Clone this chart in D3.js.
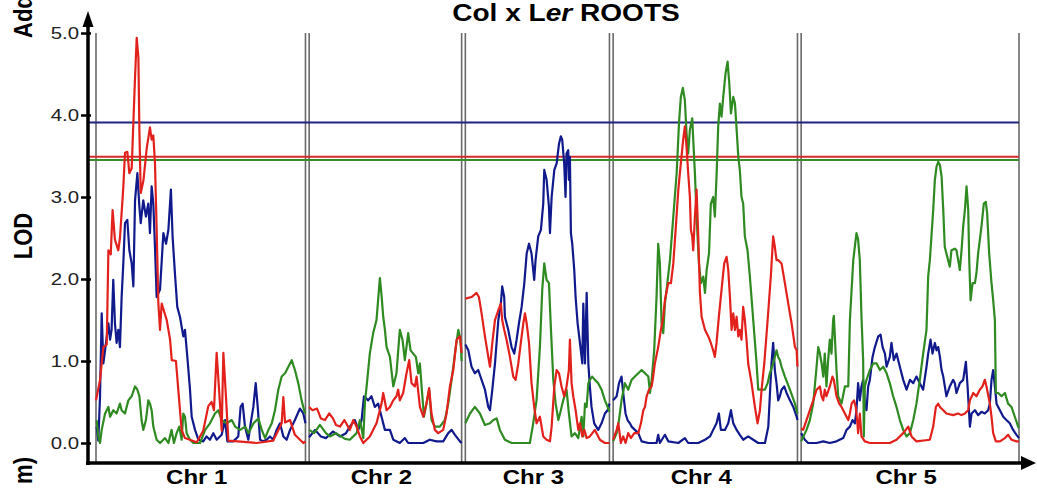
<!DOCTYPE html>
<html>
<head>
<meta charset="utf-8">
<script src="https://cdn.jsdelivr.net/npm/d3@7/dist/d3.min.js"></script>
<style>
  body { margin: 0; background: #fff; }
  svg { display: block; font-family: "Liberation Sans", Arial, sans-serif; }
</style>
</head>
<body>
<svg id="chart"></svg>
<script>
// chromosome layout (cM)
const chrNames = ["Chr 1", "Chr 2", "Chr 3", "Chr 4", "Chr 5"];
const chrLengths = [125, 91, 86, 110, 130];
const chrGap = 2.2;

const yTicks = [0, 1, 2, 3, 4, 5];

// significance thresholds (LOD)
const thresholdKeys = ["blue", "red", "green"];
const thresholdLod = [3.91, 3.49, 3.45];

// LOD profiles, one array of [cM, LOD] per chromosome
const redLod = [
  [[0,0.52],[2.4,0.77],[4.4,1.17],[6.4,1.2],[7.4,2.35],[8.8,2.3],[9.9,2.84],[11.3,2.48],[13.3,2.35],[14.3,2.5],[16.3,3.12],[17.3,3.54],[18.7,3.55],[19.9,3.29],[21.3,3.35],[23.3,4.46],[24.3,4.94],[25.3,4.7],[25.9,3.8],[26.7,3.05],[28.3,3.2],[30.3,3.6],[32.2,3.85],[33.2,3.7],[34.2,3.75],[35.2,3.41],[36.2,2.6],[37.2,1.71],[38.2,1.38],[39.2,1.7],[42.2,1.5],[44.2,1.26],[45.2,1.01],[47.7,1.0],[49.1,0.65],[51.1,0.16],[53.1,0.06],[60.1,0.01],[64,0.15],[67,0.45],[69,0.5],[70.4,0.4],[72,1.1],[73.6,0.6],[75,0.15],[76,1.1],[77.6,0.55],[79,0.03],[95.9,0],[105.8,0.03],[110.8,0.24],[111.8,0.56],[112.8,0.25],[115.8,0.28],[118.7,0.1],[123.7,0],[125,0.02]],
  [[0,0.44],[2,0.4],[4.7,0.42],[7,0.3],[9.4,0.28],[12,0.36],[14.2,0.3],[16,0.22],[18.4,0.2],[21,0.28],[24.3,0.16],[26.3,0.28],[28.3,0.2],[30.3,0.08],[32.3,0],[36.2,0.08],[40.2,0.24],[43.2,0.48],[44.2,0.61],[46.2,0.4],[48.2,0.44],[50.2,0.52],[52.1,0.57],[53.1,0.65],[54.1,0.52],[56.1,0.61],[58.1,0.85],[59.7,1.01],[61.1,0.73],[63.1,0.69],[64.1,0.81],[66.1,0.44],[68.1,0.32],[70,0.48],[71.6,0.67],[73,0.36],[75,0.16],[77,0.12],[80,0.16],[82,0.36],[84,0.69],[86,0.89],[88,1.26],[90,1.3],[91,1.1]],
  [[0,1.76],[3.7,1.78],[6.7,1.83],[8.1,1.78],[9.7,1.58],[11.7,1.3],[13.7,1.05],[14.7,0.93],[16.1,1.22],[17.7,1.5],[19.7,1.62],[21.2,1.7],[22,1.5],[23.2,1.38],[24.6,1.26],[26.6,1.05],[28.6,0.81],[30,0.77],[31.6,0.97],[33.6,1.3],[34.6,1.46],[35.6,1.58],[36.6,1.46],[38,1.22],[39.5,0.73],[41.1,0.44],[42.5,0.24],[44.5,0.32],[46.5,0.08],[48.5,0.04],[50.5,0.02],[51.5,0.2],[53.1,0.69],[54.5,0.89],[55.9,0.85],[57.4,0.69],[59,0.57],[60.4,0.69],[61.8,0.89],[62.4,1.26],[63.4,0.73],[64.4,0.57],[65.8,0.4],[67.4,0.16],[68.4,0.24],[69.8,0.08],[71,0.16],[72.4,0.06],[74.3,0.08],[77.3,0.16],[80.3,0.04],[83.3,0],[86,0]],
  [[0,0.04],[2.1,0.16],[3.1,0.24],[4.6,0],[6,0.08],[7.4,0],[9,0.12],[10.6,0.06],[12.6,0.12],[15,0.12],[16.6,0.24],[18,0.4],[19,0.44],[20,0.57],[21.4,0.65],[23,0.69],[23.9,0.81],[24.9,0.97],[26.9,1.17],[28.5,1.38],[29.9,1.54],[30.9,1.74],[32.9,1.95],[34.5,1.95],[35.9,2.19],[37.3,2.6],[38.9,3.09],[40.4,3.41],[41.8,3.7],[42.8,3.86],[43.8,3.61],[44.8,3.29],[45.8,3.0],[46.4,2.6],[47.2,2.52],[47.8,2.35],[48.8,2.76],[49.8,3.09],[50.8,2.52],[51.8,1.83],[52.8,1.54],[54.8,1.38],[56.8,1.3],[58.3,1.22],[59.7,1.13],[60.7,1.05],[61.7,1.22],[63.1,1.54],[64.7,1.87],[66.3,2.19],[67.7,2.27],[68.7,2.11],[69.7,1.78],[70.7,1.38],[71.7,1.58],[72.7,1.38],[73.7,1.54],[74.7,1.3],[75.6,1.38],[76.6,1.26],[77.6,1.66],[78.6,1.5],[79.6,1.26],[80.6,0.97],[82.6,0.73],[84.6,0.44],[86.2,0.24],[87.6,0.4],[88.6,0.65],[90.2,0.97],[92.2,1.5],[94.1,2.03],[95.5,2.52],[96.5,2.39],[97.5,2.23],[98.5,2.23],[100.5,2.19],[102.5,1.95],[104.5,1.7],[106.5,1.46],[108.5,1.17],[109.5,1.13],[110,0.93]],
  [[0,0.18],[1.2,0.16],[3.2,0.28],[5.2,0.4],[7.2,0.52],[9.2,0.65],[11.2,0.69],[12.2,0.57],[13.2,0.52],[14.1,0.65],[15.1,0.57],[17.1,0.69],[18.7,0.81],[19.5,0.77],[21.1,0.57],[22.7,0.48],[24.1,0.44],[26.1,0.36],[28.1,0.28],[29.1,0.36],[30.1,0.48],[31.5,0.52],[32.6,0.44],[33.4,0.28],[34,0.12],[35,0.36],[36,0.08],[38,0.02],[41,0],[52.9,0],[56.9,0.04],[60.9,0.12],[63.9,0.2],[65.9,0.08],[68.8,0.02],[76.8,0.04],[78.8,0.2],[80.4,0.44],[81.8,0.48],[82.8,0.44],[84.8,0.4],[86.7,0.36],[90.7,0.34],[93.7,0.36],[95.7,0.34],[97.7,0.36],[99.7,0.4],[100.7,0.52],[102.7,0.61],[104.6,0.57],[106.6,0.65],[108.2,0.69],[109.6,0.77],[110.6,0.69],[112.6,0.48],[113.6,0.32],[114.6,0.12],[116.2,0.02],[118.6,0.02],[121.6,0.06],[123.5,0.1],[125.5,0.04],[128.5,0.02],[130,0.02]]
];

const blueLod = [
  [[0.4,0.2],[1.4,0.03],[2.4,0.57],[3.4,1.58],[4.4,0.97],[5.4,1.13],[7.4,1.46],[8.4,1.26],[9.3,1.38],[10.3,1.99],[11.3,1.46],[12.3,1.22],[13.3,1.38],[14.3,1.17],[15.3,1.78],[16.3,2.19],[17.3,2.68],[18.7,2.72],[19.9,2.35],[21.3,2.19],[22.3,1.91],[23.3,2.96],[24.7,3.29],[25.9,2.88],[26.7,2.68],[28.2,2.96],[29.8,2.76],[31.2,2.92],[32.2,2.56],[33.2,3.13],[34.2,2.92],[35.2,2.39],[36.2,1.78],[38.2,1.87],[40.2,2.56],[41.8,2.43],[43.2,2.6],[44.7,3.09],[45.7,2.52],[47.1,2.07],[48.5,1.66],[50.1,1.54],[52.1,1.3],[53.1,1.38],[54.5,1.05],[56.1,0.65],[57.1,0.32],[59.1,0.16],[61.1,0.04],[64,0.02],[66,0.08],[68,0.04],[70,0.12],[72,0.04],[75,0.1],[77,0.28],[78.4,0.02],[81.9,0.02],[84.9,0.08],[86.3,0.44],[87.5,0.48],[88.9,0.2],[90.9,0.04],[92.3,0.24],[93.9,0.44],[95.3,0.73],[96.5,0.44],[97.9,0.04],[99.8,0.02],[101.8,0.04],[103.8,0.08],[105.8,0.04],[107.8,0.16],[109.8,0.24],[111.8,0.08],[113.8,0.04],[115.8,0.16],[118.7,0.28],[121.7,0.42],[123.7,0.36],[125,0.24]],
  [[0,0.07],[3.5,0.16],[7,0.08],[10,0.06],[14.2,0.14],[18.4,0.08],[22,0.12],[24.3,0.2],[27.3,0.28],[29.3,0.16],[31.3,0.28],[32.7,0.57],[35.2,0.52],[37.2,0.57],[39.2,0.44],[41.2,0.48],[43.2,0.32],[45.2,0.16],[48.2,0.16],[50.2,0.04],[54.1,0],[57.1,0.06],[59.1,0],[68.1,0],[72,0.04],[76,0.02],[80,0.02],[83,0.12],[85,0.16],[87,0.1],[90,0.02],[91,0]],
  [[0,1.2],[1.8,1.13],[3.7,0.93],[5.7,0.85],[7.7,0.89],[9.7,0.77],[11.7,0.65],[13.7,0.44],[14.7,0.4],[16.1,0.65],[17.7,0.97],[19.7,1.5],[21.2,1.7],[22,1.91],[23.2,1.78],[23.6,1.54],[25.6,1.38],[27.6,1.17],[29.2,1.09],[30.6,1.26],[32,1.46],[33.6,1.66],[35.2,1.95],[36.6,2.31],[38,2.43],[39.5,2.31],[41.1,1.99],[41.9,2.23],[43.5,2.52],[45.1,2.6],[46.5,2.92],[47.1,3.33],[48.5,3.21],[49.9,2.88],[50.5,2.56],[51.5,3.0],[53.1,3.33],[54.5,3.41],[55.9,3.65],[57,3.74],[57.8,3.7],[59,3.41],[59.8,3.0],[60.4,3.53],[61.4,3.57],[61.8,3.21],[62.4,3.49],[63,2.56],[63.8,2.43],[65,2.11],[65.8,1.78],[67,1.46],[68.4,1.22],[69.8,0.97],[70.4,1.7],[71.4,0.97],[72.4,1.83],[73.4,0.97],[74.3,0.69],[75.3,0.44],[76.9,0.24],[79.3,0.16],[81.3,0.24],[83.3,0.36],[84.9,0.4],[86,0.48]],
  [[0,0.52],[2.1,0.57],[3.5,0.73],[5,0.81],[6,0.61],[7.4,0.36],[8.6,0.28],[10,0.24],[11,0.2],[13,0.16],[15,0.12],[17,0.02],[21,0],[25.9,0],[26.9,0.1],[27.9,0],[30.9,0.1],[32.9,0.02],[38.9,0],[42.8,0.06],[44.8,0],[50.8,0],[54.8,0.04],[57.8,0.08],[59.7,0.16],[61.7,0.24],[63.1,0.36],[64.3,0.16],[66.7,0.16],[68.7,0.24],[70.3,0.4],[71.7,0.24],[73.7,0.16],[75.6,0.1],[77.6,0.04],[80.6,0.08],[83.6,0.04],[86.6,0],[90.6,0],[92.6,0.2],[93.5,0.57],[94.5,0.97],[95.5,1.22],[96.5,0.89],[97.5,0.73],[98.5,0.52],[99.5,0.57],[100.5,0.65],[102.1,0.69],[103.5,0.61],[105.5,0.52],[107.5,0.44],[109.5,0.32],[110,0.28]],
  [[0,0.12],[2.2,0.04],[4.2,0],[9.2,0],[13.2,0.02],[17.1,0],[21.1,0.02],[25.1,0.06],[27.1,0.16],[29.1,0.2],[30.7,0.28],[32.1,0.24],[33,0.4],[34,0.73],[35,0.52],[36,0.69],[37,0.77],[38,0.48],[39,0.4],[40,0.69],[41,0.77],[42.6,1.05],[44,1.17],[46,1.3],[47.4,1.32],[48.6,1.17],[50,1.09],[51,0.93],[52.9,1.05],[53.9,1.22],[55.3,1.01],[56.9,1.09],[58.9,0.93],[60.9,0.77],[62.9,0.65],[64.9,0.77],[66.9,0.73],[68.8,0.81],[70.8,0.73],[72.8,0.65],[74.8,0.93],[75.8,1.09],[77.2,1.26],[78.4,1.09],[79.8,1.22],[80.8,1.13],[81.8,1.17],[82.8,1.05],[83.8,0.89],[84.8,0.81],[86.7,0.57],[88.7,0.69],[90.7,0.77],[91.7,0.73],[92.7,0.61],[94.7,0.73],[96.7,0.77],[98.3,0.99],[99.3,0.69],[100.7,0.2],[101.7,0.36],[103.7,0.4],[105.6,0.34],[107.6,0.38],[109.6,0.36],[111.6,0.4],[112.6,0.48],[113.6,0.77],[114.6,0.89],[115.6,0.69],[116.6,0.48],[118.6,0.4],[120.6,0.32],[122.5,0.28],[124.5,0.24],[126.5,0.16],[128.5,0.1],[130,0.06]]
];

const greenLod = [
  [[0.4,0.28],[1.4,0.08],[2.4,0],[3.4,0.16],[5.4,0.36],[7.4,0.44],[8.4,0.32],[10.3,0.4],[12.3,0.36],[14.3,0.48],[15.3,0.4],[17.3,0.36],[19.3,0.52],[21.3,0.57],[23.3,0.69],[24.7,0.65],[25.9,0.57],[27.2,0.28],[28.2,0.16],[29.8,0.28],[31.2,0.52],[32.2,0.48],[33.2,0.4],[34.2,0.2],[35.2,0.12],[36.2,0.04],[38.2,0],[41.2,0.06],[43.2,0],[45.1,0.16],[46.5,0],[48.1,0.12],[49.7,0.2],[51.1,0.04],[52.1,0.36],[53.1,0.32],[54.1,0.12],[56.1,0.04],[58.1,0],[62.1,0],[65.1,0.16],[68,0.24],[71,0.36],[73,0.4],[75,0.28],[78,0.24],[81,0.28],[83,0.2],[86,0.16],[89,0.2],[91,0.12],[94,0.24],[96.9,0.3],[98.9,0.16],[100.9,0.06],[102.9,0.16],[104.9,0.24],[106.8,0.4],[108.8,0.65],[110.8,0.81],[112.8,0.85],[114.8,0.93],[116.8,1.01],[118.7,0.89],[120.7,0.73],[122.7,0.52],[124.7,0.36]],
  [[0,0.16],[3,0.12],[6.4,0.22],[10,0.12],[12.4,0.08],[16,0.12],[21.4,0.05],[24.3,0.04],[28.3,0.12],[30.3,0.28],[32.3,0.06],[33.3,0.5],[34.3,0.69],[36.2,1.09],[38.2,1.34],[40.2,1.5],[42.2,2.01],[43.2,1.8],[44.2,1.54],[45.2,1.38],[46.2,1.17],[48.2,1.05],[50.2,0.69],[52.1,0.85],[54.1,1.38],[55.7,1.26],[57.1,1.01],[59.1,1.34],[60.5,1.13],[62.1,1.09],[63.7,1.05],[65.1,0.85],[66.1,0.97],[67.1,0.69],[68.5,0.32],[70,0.48],[71.6,0.65],[73,0.28],[75,0.2],[78,0.2],[81,0.28],[83,0.48],[85,0.77],[87.5,1.17],[89,1.38],[90.3,1.26],[91,1.0]],
  [[0,0.24],[2.8,0.36],[5.7,0.44],[8.7,0.36],[11.7,0.22],[14.7,0.24],[16.7,0.28],[18.7,0.3],[20.6,0.16],[23.6,0.04],[27.6,0],[38.5,0],[40.5,0.24],[42.5,0.52],[44.5,1.17],[45.9,1.87],[47.1,2.19],[48.5,1.99],[49.9,1.95],[51.1,1.38],[52.5,0.77],[53.9,0.48],[55.5,0.28],[57,0.4],[58.4,0.52],[60.4,0.65],[61.8,0.36],[63.4,0.08],[65.4,0.12],[67.4,0.06],[69.4,0.32],[70.4,0.08],[71.4,0.48],[72.4,0.44],[73.4,0.73],[74.3,0.77],[75.7,0.81],[77.3,0.77],[79.3,0.73],[81.3,0.65],[83.3,0.52],[85.7,0.4],[86,0.38]],
  [[0,0.02],[2.1,0.12],[3.5,0.28],[5,0.52],[7,0.73],[9,0.65],[11,0.77],[13,0.81],[15,0.85],[17,0.89],[19,0.85],[21,0.81],[22,0.61],[23,0.77],[24.5,1.13],[25.9,1.78],[26.9,2.43],[27.9,2.19],[28.9,1.46],[29.9,1.34],[30.9,1.7],[31.9,1.87],[33.9,2.23],[35.9,2.76],[37.9,3.29],[39.3,3.9],[40.4,4.22],[41.6,4.33],[42.8,4.18],[43.8,3.78],[44.8,3.53],[45.8,3.82],[47.2,3.96],[47.8,3.7],[48.8,3.29],[49.8,2.76],[51.2,2.19],[52.4,1.95],[53.8,2.03],[54.8,1.83],[55.8,2.11],[57.2,2.31],[58.3,2.92],[59.7,3.0],[60.7,2.76],[61.7,3.25],[62.7,3.86],[63.7,4.14],[64.7,3.98],[65.7,4.22],[67.1,4.51],[68.3,4.65],[69.3,4.39],[70.3,4.02],[71.7,4.22],[72.7,4.14],[73.7,3.82],[74.7,3.49],[75.6,3.33],[76.6,3.0],[77.6,2.92],[78.6,2.52],[80.2,2.35],[81.6,2.03],[83.6,1.5],[85.6,0.97],[86.6,0.65],[88.6,0.65],[90.6,0.65],[92.2,0.73],[93.5,0.85],[95.5,0.97],[97.5,1.13],[98.5,1.05],[99.5,1.01],[100.5,0.93],[102.5,0.81],[105.5,0.65],[108.5,0.48],[110,0.36]],
  [[0,0.02],[3.2,0.16],[5.2,0.28],[7.2,0.48],[9.2,0.93],[10.2,1.17],[11.2,1.09],[12.2,0.97],[13.2,0.81],[14.1,1.09],[15.1,0.69],[16.1,1.01],[17.1,1.26],[18.1,1.09],[19.1,1.5],[19.5,1.55],[21.1,0.89],[22.1,0.57],[24.1,0.48],[26.1,0.69],[28.1,0.69],[29.1,1.5],[31.1,2.23],[33,2.56],[34,2.48],[35,2.23],[36,1.54],[37,1.01],[37.4,0.08],[38,0.69],[39,0.77],[41,0.89],[43,0.97],[45,0.97],[47,0.89],[49,0.93],[51,0.85],[52.9,0.73],[54.9,0.57],[56.9,0.44],[58.9,0.28],[60.9,0.16],[62.9,0.08],[64.9,0.12],[66.9,0.28],[68.8,0.48],[70.8,0.77],[72.8,1.09],[74.8,1.38],[75.8,2.03],[76.8,2.23],[78.8,2.84],[79.8,3.21],[80.8,3.37],[81.8,3.43],[82.8,3.39],[83.8,3.25],[84.8,2.84],[85.7,2.39],[86.7,2.31],[87.7,2.23],[88.7,2.15],[89.7,2.35],[91.7,2.37],[92.7,2.35],[93.7,2.23],[94.7,2.11],[95.7,2.35],[96.7,2.64],[97.7,2.84],[98.7,3.13],[99.7,2.84],[100.3,2.23],[101.1,1.74],[102.3,1.95],[103.7,1.95],[104.6,2.07],[105.6,2.31],[107.6,2.64],[109,2.92],[110.2,2.94],[111,2.8],[112.2,2.31],[113.6,1.95],[114.6,1.74],[115.6,1.5],[116.2,0.61],[117.6,0.61],[119.6,0.57],[121.6,0.61],[123.5,0.48],[125.5,0.44],[127.5,0.32],[129.5,0.2],[130,0.18]]
];

const width = 1037, height = 488;
const colors = { red: "#e3211c", blue: "#101a8c", green: "#2f8a22" };
const thresholdColors = { red: "#d42a2a", blue: "#22237e", green: "#3b8a2c" };

const svg = d3.select("#chart").attr("width", width).attr("height", height);

const plotLeft = 96, plotRight = 1019, axisX = 88, axisY = 463;

const offsets = chrLengths.map((l, i) => d3.sum(chrLengths.slice(0, i)) + i * chrGap);
const total = d3.sum(chrLengths) + (chrLengths.length - 1) * chrGap;

const x = d3.scaleLinear().domain([0, total]).range([plotLeft, plotRight]);
const y = d3.scaleLinear().domain([0, 5]).range([443, 33]);

// chromosome borders
const borders = [];
chrLengths.forEach((l, i) => { borders.push(offsets[i]); borders.push(offsets[i] + l); });
svg.append("g").selectAll("line")
    .data(borders)
    .enter().append("line")
    .attr("x1", d => x(d)).attr("x2", d => x(d))
    .attr("y1", y(5)).attr("y2", axisY)
    .attr("stroke", "#6a6a6a")
    .attr("stroke-width", 1.6);

// threshold lines
svg.append("g").selectAll("line")
    .data(thresholdLod)
    .enter().append("line")
    .attr("x1", axisX).attr("x2", plotRight)
    .attr("y1", d => y(d)).attr("y2", d => y(d))
    .attr("stroke", (d, i) => thresholdColors[thresholdKeys[i]])
    .attr("stroke-width", 2);

// LOD profiles
const series = [
  { key: "blue", data: blueLod },
  { key: "green", data: greenLod },
  { key: "red", data: redLod }
];

const line = d3.line()
    .x(d => x(d[0]))
    .y(d => y(d[1]));

series.forEach(s => {
  svg.append("g").selectAll("path")
    .data(s.data)
    .enter().append("path")
    .attr("d", (d, i) => line(d.map(p => [p[0] + offsets[i], p[1]])))
    .attr("fill", "none")
    .attr("stroke", colors[s.key])
    .attr("stroke-width", 2.2)
    .attr("stroke-linejoin", "round");
});

// y axis
const yAxis = svg.append("g")
    .attr("transform", `translate(${axisX + 3},0)`)
    .call(d3.axisLeft(y).tickValues(yTicks).tickSize(10).tickPadding(2).tickFormat(d3.format(".1f")));
yAxis.select(".domain").remove();
yAxis.selectAll(".tick line").attr("stroke", "#000").attr("stroke-width", 2.5);
yAxis.selectAll(".tick text")
    .attr("x", -12 / 1.2)
    .attr("transform", "scale(1.2,1)")
    .attr("font-size", 17)
    .attr("font-family", "'Liberation Sans', Arial, sans-serif")
    .attr("fill", "#222");

svg.append("line")
    .attr("x1", axisX).attr("x2", axisX)
    .attr("y1", 22).attr("y2", axisY + 2)
    .attr("stroke", "#000").attr("stroke-width", 3.5);
svg.append("path")
    .attr("d", `M${axisX},11 L${axisX - 5.5},27 L${axisX + 5.5},27 Z`)
    .attr("fill", "#000");

// x axis
svg.append("line")
    .attr("x1", axisX - 2).attr("x2", 1026)
    .attr("y1", axisY).attr("y2", axisY)
    .attr("stroke", "#000").attr("stroke-width", 3.5);
svg.append("path")
    .attr("d", `M1036,${axisY} L1021,${axisY - 7} L1021,${axisY + 7} Z`)
    .attr("fill", "#000");

// chromosome labels
svg.append("g").selectAll("text")
    .data(chrNames)
    .enter().append("text")
    .attr("transform", (d, i) => `translate(${x(offsets[i] + chrLengths[i] / 2) - 4},484) scale(1.2,1)`)
    .attr("text-anchor", "middle")
    .attr("font-size", 20)
    .attr("font-weight", "bold")
    .text(d => d);

// title
const title = svg.append("text")
    .attr("transform", "translate(566,21) scale(1.22,1)")
    .attr("text-anchor", "middle")
    .attr("font-size", 23)
    .attr("font-weight", "bold");
title.append("tspan").text("Col x L");
title.append("tspan").attr("font-style", "italic").text("er");
title.append("tspan").text(" ROOTS");

// y labels (left margin, partly cut off)
svg.append("text")
    .attr("transform", "translate(32,236) scale(1.2,1) rotate(-90)")
    .attr("text-anchor", "middle")
    .attr("font-size", 22)
    .attr("font-weight", "bold")
    .text("LOD");

svg.append("text")
    .attr("transform", "translate(32,38) scale(1.2,1) rotate(-90)")
    .attr("text-anchor", "start")
    .attr("font-size", 22)
    .attr("font-weight", "bold")
    .text("Additive effect");

svg.append("text")
    .attr("transform", "translate(32,457) scale(1.2,1) rotate(-90)")
    .attr("text-anchor", "end")
    .attr("font-size", 22)
    .attr("font-weight", "bold")
    .text("m)");
</script>
</body>
</html>
